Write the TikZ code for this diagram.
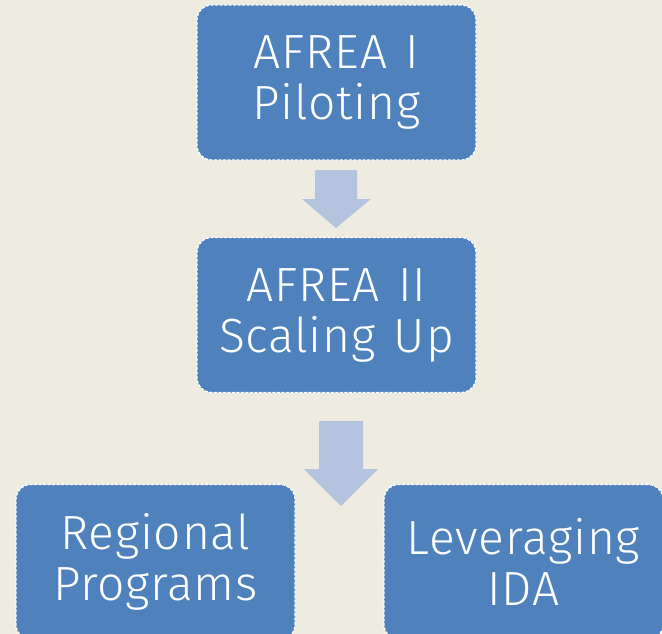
\documentclass[tikz,border=0pt]{standalone}
\usepackage{fontspec}
\setmainfont{Fira Sans}[UprightFont={* Light}, LetterSpace=1.6, WordSpace=1.3]
\definecolor{bg}{HTML}{EEECE1}
\definecolor{boxblue}{HTML}{4F81BD}
\definecolor{arrowblue}{HTML}{B4C4DE}
\begin{document}
\begin{tikzpicture}[x=1pt,y=-1pt,
  stage/.style={rectangle, rounded corners=15pt, fill=boxblue, draw=white,
    dash pattern=on 3pt off 1.5pt, line width=1.2pt,
    minimum width=279pt, minimum height=155pt, inner sep=0pt,
    align=center, text=white, font=\fontsize{48}{51}\selectfont},
  blockarrow/.style={fill=arrowblue, draw=none}]
\fill[bg] (0,0) rectangle (662,634);
\useasboundingbox (0,0) rectangle (662,634);
\node[stage] (afrea1) at (336.5,82.5) {AFREA I\\Piloting};
\node[stage] (afrea2) at (336.5,315) {AFREA II\\Scaling Up};
\node[stage] (regional) at (155.5,562) {Regional\\Programs};
\node[stage] (ida) at (523.5,562) {Leveraging\\IDA};
\fill[blockarrow] (315,170) -- (357,170) -- (357,199) -- (371,199) -- (336,228) -- (302,199) -- (315,199) -- cycle;
\fill[blockarrow] (319,421) -- (363,421) -- (363,469) -- (378,469) -- (341,506) -- (304,469) -- (319,469) -- cycle;
\end{tikzpicture}
\end{document}
